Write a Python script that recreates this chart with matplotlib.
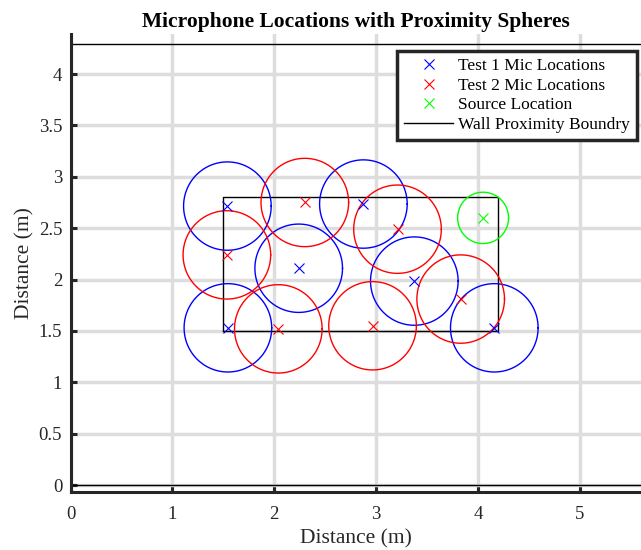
import numpy as np
import matplotlib
matplotlib.use("Agg")
import matplotlib.pyplot as plt

plt.rcParams['font.family'] = ['Liberation Serif', 'DejaVu Serif']

# Data
test1_x = [1.54, 2.24, 2.875, 3.375, 1.545, 4.16]
test1_y = [2.715, 2.11, 2.735, 1.985, 1.53, 1.53]
test2_x = [2.30, 1.535, 2.04, 3.21, 2.965, 3.83]
test2_y = [2.75, 2.24, 1.52, 2.49, 1.55, 1.81]
source_x = [4.05]
source_y = [2.60]
mic_radius = 0.43
source_radius = 0.25
wall_x = [1.5, 4.2, 4.2, 1.5, 1.5]
wall_y = [1.5, 1.5, 2.806, 2.806, 1.5]
room_walls_y = [0.0, 4.29]

fig = plt.figure(figsize=(6.41, 5.5), dpi=100)
ax = fig.add_axes([70.5/641, (550-492)/550, 1 - 70.5/641, (492-34)/550])

tt = np.linspace(0, 2*np.pi, 200)

ax.plot(test1_x, test1_y, 'x', color='blue', ms=6.5, mew=0.8, label='Test 1 Mic Locations', zorder=3)
ax.plot(test2_x, test2_y, 'x', color='red', ms=6.5, mew=0.8, label='Test 2 Mic Locations', zorder=3)
ax.plot(source_x, source_y, 'x', color='#00ff00', ms=6.5, mew=0.8, label='Source Location', zorder=3)
ax.plot(wall_x, wall_y, '-', color='black', lw=1.0, label='Wall Proximity Boundry', zorder=2)

for cx, cy in zip(test1_x, test1_y):
    ax.plot(cx + mic_radius*np.cos(tt), cy + mic_radius*np.sin(tt), color='blue', lw=1.0, zorder=2)
for cx, cy in zip(test2_x, test2_y):
    ax.plot(cx + mic_radius*np.cos(tt), cy + mic_radius*np.sin(tt), color='red', lw=1.0, zorder=2)
for cx, cy in zip(source_x, source_y):
    ax.plot(cx + source_radius*np.cos(tt), cy + source_radius*np.sin(tt), color='#00ff00', lw=1.0, zorder=2)

for wy in room_walls_y:
    ax.axhline(wy, color='black', lw=1.0, zorder=2)

ax.set_xlim(0, 5.6)
ax.set_ylim(-0.068, 4.39)
ax.set_xticks([0, 1, 2, 3, 4, 5])
ax.set_yticks([0, 0.5, 1, 1.5, 2, 2.5, 3, 3.5, 4])
ax.set_yticklabels(['0', '0.5', '1', '1.5', '2', '2.5', '3', '3.5', '4'])

ax.grid(True, color='#dddddd', lw=2.5, zorder=0)
ax.set_axisbelow(True)
for s in ['top', 'right']:
    ax.spines[s].set_visible(False)
for s in ['left', 'bottom']:
    ax.spines[s].set_linewidth(2.2)
    ax.spines[s].set_color('#262626')
ax.tick_params(direction='in', length=4, width=2.2, colors='#262626', labelsize=13.5)
ax.tick_params(axis='x', pad=10)
ax.tick_params(axis='y', pad=6)

ax.set_xlabel('Distance (m)', fontsize=15.5, color='#262626', labelpad=4.5)
ax.set_ylabel('Distance (m)', fontsize=15.5, color='#262626', labelpad=3)
ax.set_title('Microphone Locations with Proximity Spheres', fontsize=15.5, fontweight='bold', pad=5)

leg = ax.legend(loc='upper right', bbox_to_anchor=(0.993, 0.963), fontsize=12.5, fancybox=False,
                framealpha=1, edgecolor='#262626', borderpad=0.4, labelspacing=0.2,
                handlelength=2.8, handletextpad=0.3, borderaxespad=0)
leg.get_frame().set_linewidth(2.5)

fig.savefig('out.png', dpi=100)
